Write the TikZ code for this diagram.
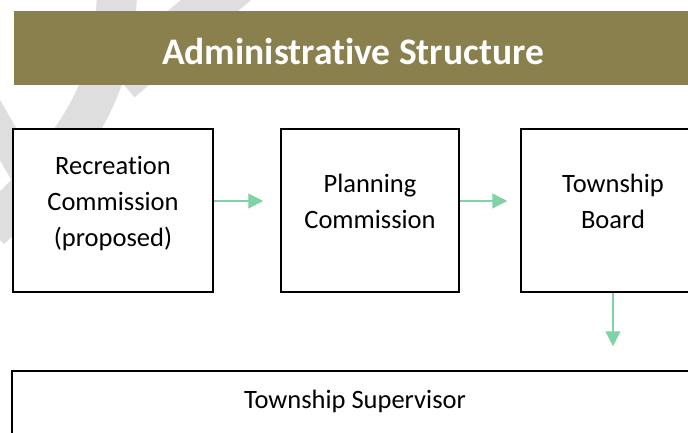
\documentclass[tikz,border=0pt]{standalone}
\usepackage{fontspec}
\setmainfont{Carlito}[Ligatures=NoCommon]
\usepackage{xcolor}
\definecolor{Olive}{RGB}{138,128,78}
\definecolor{Mint}{RGB}{127,211,166}
\definecolor{Mist}{RGB}{222,222,222}
\definecolor{Black}{RGB}{0,0,0}
\definecolor{White}{RGB}{255,255,255}
\newcommand{\boxtext}[1]{\raisebox{1pt}[0pt][0pt]{\begin{tabular}{@{}c@{}}#1\end{tabular}}}
\usetikzlibrary{arrows.meta}

\begin{document}
\begin{tikzpicture}[x=1pt, y=-1pt,
		orgbox/.style={draw=Black, fill=White, line width=1.5pt, inner sep=0pt, font=\fontsize{26.5}{36}\selectfont},
		flow/.style={draw=Mint, line width=1.2pt, -{Triangle[length=15pt, width=15pt]}}]
		
		\useasboundingbox (0,0) rectangle (688,432);
		
		% Watermark
		\draw[Mist, line width=40pt] (117,-10) .. controls (115,100) and (70,150) .. (-10,230);
		\draw[Mist, line width=30pt] (-20,95) -- (40,200);
		\draw[Mist, line width=45pt] (240,-20) -- (120,80);
		
		% Banner
		\node[fill=Olive, text=White, minimum width=678pt, minimum height=74pt, text height=33pt, text depth=0pt, font=\fontsize{37.5}{40}\selectfont\bfseries] (banner) at (353,48) {Administrative Structure};
		
		% Rectangles
		\node[orgbox, minimum width=200pt, minimum height=163pt] (rec) at (113,210.5) {\boxtext{Recreation\\Commission\\(proposed)}};
		\node[orgbox, minimum width=178pt, minimum height=163pt] (plan) at (370,210.5) {\boxtext{Planning\\Commission}};
		\node[orgbox, minimum width=184pt, minimum height=163pt] (board) at (613,210.5) {\boxtext{Township\\Board}};
		\node[orgbox, minimum width=686pt, minimum height=76pt] (sup) at (355,409) {\boxtext{Township Supervisor}};
		
		% Lines
		\draw[flow, shorten >=17pt] ([yshift=9.5pt]rec.east) -- ([yshift=9.5pt]plan.west);
		\draw[flow, shorten >=13pt] ([yshift=9.5pt]plan.east) -- ([yshift=9.5pt]board.west);
		\draw[flow, shorten >=24pt] (board.south) -- (board.south |- sup.north);
		
	\end{tikzpicture}
\end{document}
